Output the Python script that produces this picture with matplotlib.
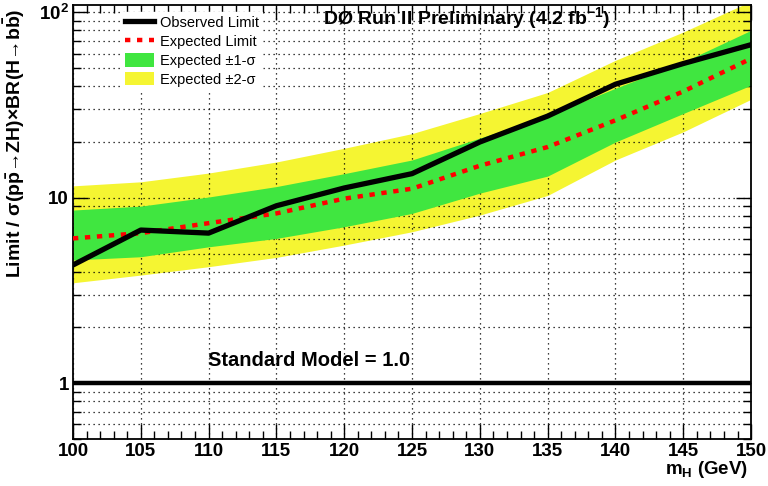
import matplotlib
matplotlib.use("Agg")
import matplotlib.pyplot as plt
from matplotlib.lines import Line2D
from matplotlib.patches import Patch
from matplotlib.ticker import FixedLocator, FixedFormatter, LogLocator, NullFormatter, MultipleLocator

plt.rcParams["font.family"] = ["Liberation Sans", "DejaVu Sans"]
plt.rcParams["mathtext.fontset"] = "custom"
plt.rcParams["mathtext.rm"] = "Liberation Sans:bold"
plt.rcParams["mathtext.bf"] = "Liberation Sans:bold"
plt.rcParams["mathtext.it"] = "Liberation Sans:bold"
plt.rcParams["mathtext.fallback"] = "stixsans"

# Higgs mass points (GeV) and limits
mass = [100, 105, 110, 115, 120, 125, 130, 135, 140, 145, 150]
observed = [4.34, 6.7, 6.45, 9.06, 11.3, 13.5, 20.0, 27.6, 41.0, 53.0, 67.0]
expected = [6.04, 6.45, 7.3, 8.24, 9.9, 11.2, 14.9, 18.8, 26.2, 37.5, 56.4]
minus1 = [4.62, 4.81, 5.44, 6.04, 6.98, 8.24, 10.6, 13.1, 20.0, 28.5, 40.5]
plus1 = [8.59, 9.02, 10.1, 11.5, 13.5, 16.0, 21.0, 27.7, 39.0, 54.0, 80.1]
minus2 = [3.48, 3.83, 4.25, 4.77, 5.56, 6.56, 8.07, 10.3, 16.0, 22.7, 34.0]
plus2 = [11.6, 12.2, 13.6, 15.6, 18.5, 22.2, 28.5, 37.0, 55.2, 78.4, 115.0]
sm_value = 1.0

yellow = "#f5f532"
green = "#40e640"

fig = plt.figure(figsize=(7.68, 4.86), dpi=100)
ax = fig.add_axes([0.095, 0.0967, 0.883, 0.8935])

ax.fill_between(mass, minus2, plus2, color=yellow, lw=0, zorder=1)
ax.fill_between(mass, minus1, plus1, color=green, lw=0, zorder=2)
ax.plot(mass, expected, color="red", lw=3.2, linestyle=(0, (1.2, 1.5)), zorder=4)
ax.plot(mass, observed, color="black", lw=3.8, zorder=5)
ax.axhline(sm_value, color="black", lw=3.2, zorder=5)

ax.set_xlim(100, 150)
ax.set_yscale("log")
ax.set_ylim(0.5, 110)

ax.xaxis.set_major_locator(MultipleLocator(5))
ax.xaxis.set_minor_locator(MultipleLocator(1))
ax.yaxis.set_major_locator(FixedLocator([1, 10, 100]))
ax.yaxis.set_major_formatter(FixedFormatter(["1", "10", r"$10^{2}$"]))
ax.yaxis.set_minor_locator(LogLocator(base=10, subs=range(2, 10)))
ax.yaxis.set_minor_formatter(NullFormatter())

ax.grid(True, which="major", axis="x", color="black", linestyle=(0, (1, 3)), lw=0.9)
ax.grid(True, which="both", axis="y", color="black", linestyle=(0, (1, 3)), lw=0.9)
for line in ax.get_xgridlines() + ax.get_ygridlines():
    line.set_zorder(3)

ax.tick_params(which="both", direction="in", top=True, right=True, width=1.0)
ax.tick_params(which="major", length=11, labelsize=13.5, pad=3)
ax.tick_params(which="minor", length=6)
for lab in ax.get_xticklabels() + ax.get_yticklabels():
    lab.set_fontweight("bold")
for sp in ax.spines.values():
    sp.set_linewidth(1.3)

ax.set_ylabel("Limit / \u03c3(p$\\bar{\\rm p}$\u2192ZH)\u00d7BR(H\u2192b$\\bar{\\rm b}$)",
              fontsize=14, fontweight="bold", loc="top")
ax.yaxis.set_label_coords(-0.068, 0.992)
ax.set_xlabel(r"m$_{\rm H}$ (GeV)", fontsize=13.5, fontweight="bold", loc="right")
ax.xaxis.set_label_coords(0.996, -0.047)

ax.text(0.369, 0.969, r"DØ Run II Preliminary (4.2 fb$^{-1}$)", transform=ax.transAxes,
        fontsize=14, fontweight="bold", ha="left", va="center", zorder=6)
ax.text(0.199, 0.18, "Standard Model = 1.0", transform=ax.transAxes,
        fontsize=14.5, fontweight="bold", ha="left", va="center", zorder=6)

handles = [
    Line2D([], [], color="black", lw=3.8),
    Line2D([], [], color="red", lw=3.2, linestyle=(0, (1.2, 1.5))),
    Patch(facecolor=green, edgecolor="none"),
    Patch(facecolor=yellow, edgecolor="none"),
]
labels = ["Observed Limit", "Expected Limit", "Expected \u00b11-\u03c3", "Expected \u00b12-\u03c3"]
leg = ax.legend(handles, labels, loc="upper left", bbox_to_anchor=(0.06, 1.0),
                frameon=True, fancybox=False, edgecolor="white", facecolor="white",
                framealpha=1.0, fontsize=10.5, handlelength=2.0, handleheight=1.0,
                labelspacing=0.3, borderpad=0.25, handletextpad=0.4)
leg.set_zorder(7)

fig.savefig("out.png", dpi=100)
